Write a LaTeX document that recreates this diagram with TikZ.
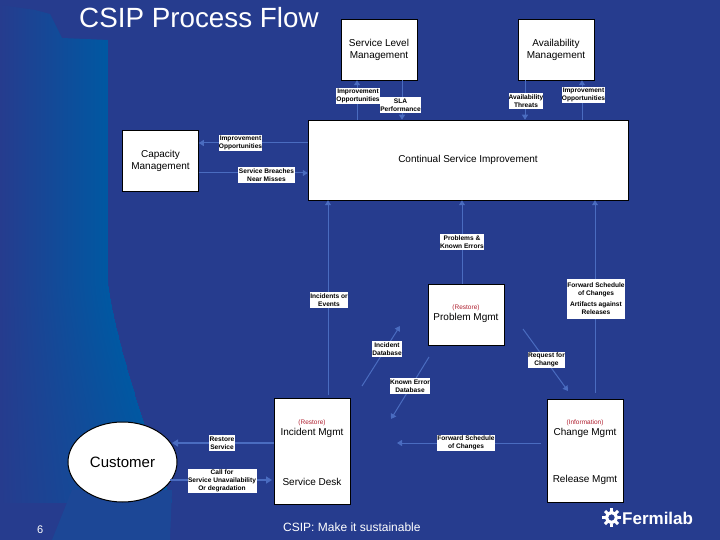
\documentclass[tikz,border=0pt]{standalone}
\usepackage{fontspec}
\setmainfont{Liberation Sans}
\usetikzlibrary{arrows.meta,calc,shapes.geometric}
\definecolor{bgblue}{HTML}{263C8E}
\definecolor{bandlow}{HTML}{1C4796}
\definecolor{bandlight}{HTML}{0058A2}
\definecolor{flow}{HTML}{4A6CC0}
\definecolor{redtxt}{HTML}{B02030}
\tikzset{
 x=1pt,y=-1pt,
 proc/.style={draw=black,line width=0.5pt,fill=white,minimum width=76pt,inner sep=0pt,align=center,font=\fontsize{10}{12}\selectfont},
 lab/.style={fill=white,inner sep=0pt,align=center,font=\fontsize{6.6}{8}\selectfont\bfseries,text=black},
 flowline/.style={draw=flow,line width=1pt,-{Triangle[width=6pt,length=5pt]}},
 flowthick/.style={flowline,line width=1.6pt,-{Triangle[width=7pt,length=6pt]}},
 boxtxt/.style={inner sep=0pt,font=\fontsize{10}{12}\selectfont},
 redlab/.style={inner sep=0pt,text=redtxt,font=\fontsize{6.5}{8}\selectfont},
 titletxt/.style={text=white,inner sep=0pt,anchor=base west},
 bandshade/.style={left color=bgblue,right color=bandlight,draw=none},
}
\begin{document}
\begin{tikzpicture}
\useasboundingbox (0,0) rectangle (720,540);
\fill[bgblue] (0,0) rectangle (720,540);
% background band
\begin{scope}
\clip (0,5) -- (35,10) -- (50,14) -- (62,38) -- (108,40) -- (108,282) -- (0,282) -- cycle;
\shade[bandshade] (0,0) rectangle (108,282);
\end{scope}
\foreach \yy in {280,283,...,500}{
  \pgfmathsetmacro{\xx}{108+64*((\yy-280)/220)^1.3}
  \shade[bandshade] (0,\yy) rectangle (\xx,\yy+3.3);
}
\fill[bandlow] (52,540) -- (72,490) -- (172,490) -- (170,540) -- cycle;
% process boxes
\node[proc,minimum height=61pt] (slm) at (379,49.5) {Service Level\\Management};
\node[proc,minimum height=61pt] (avail) at (556,49.5) {Availability\\Management};
\node[proc,minimum width=320pt,minimum height=80pt] (csi) at (468,160) {Continual Service Improvement};
\node[proc,minimum height=61pt] (cap) at (160.5,160.5) {Capacity\\Management};
\node[proc,minimum height=61pt] (prob) at (466,314.5) {};
\node[proc,minimum height=106pt] (inc) at (312,451) {};
\node[proc,minimum height=103pt] (chg) at (585,450.5) {};
\node[draw=black,line width=1pt,fill=white,ellipse,minimum width=109pt,minimum height=80pt,inner sep=0pt,font=\fontsize{15}{16}\selectfont] (cust) at (122.5,462) {Customer};
% texts inside the boxes
\node[redlab] (probr) at (466,308) {(Restore)};
\node[boxtxt] (probt) at (466,318) {Problem Mgmt};
\node[redlab] (incr) at (312,423) {(Restore)};
\node[boxtxt] (inct) at (312,433) {Incident Mgmt};
\node[boxtxt] (desk) at (312,482) {Service Desk};
\node[redlab] (chgr) at (585,423) {(Information)};
\node[boxtxt] (chgt) at (585,433) {Change Mgmt};
\node[boxtxt] (rel) at (585,480) {Release Mgmt};
% anchors for free ends
\coordinate (idb1) at (362,386);
\coordinate (idb2) at (400,326);
\coordinate (ked1) at (429,357);
\coordinate (ked2) at (391,419);
\coordinate (rfc1) at (523,329);
\coordinate (rfc2) at (568,391);
\coordinate (fsb2) at (397,443);
\coordinate (fsb1) at (541,443);
\coordinate (rs2) at (172,443);
\coordinate (cf1) at (170,480);
\coordinate (cf2) at (272,480);
\coordinate (x1) at (357,0);
\coordinate (x2) at (402,0);
\coordinate (x3) at (525,0);
\coordinate (x4) at (582,0);
\coordinate (x5) at (462,0);
\coordinate (x6) at (328,0);
\coordinate (x7) at (595,0);
\coordinate (y1) at (0,143);
\coordinate (y2) at (0,173);
% connectors
\draw[flowline] (x1 |- csi.north) -- (x1 |- slm.south);
\draw[flowline] (x2 |- slm.south) -- (x2 |- csi.north);
\draw[flowline] (x3 |- avail.south) -- (x3 |- csi.north);
\draw[flowline] (x4 |- csi.north) -- (x4 |- avail.south);
\draw[flowline] (csi.west |- y1) -- (cap.east |- y1);
\draw[flowline] (cap.east |- y2) -- (csi.west |- y2);
\draw[flowline] (x5 |- prob.north) -- (x5 |- csi.south);
\draw[flowline] ($(x6 |- inc.north)+(0,-3)$) -- (x6 |- csi.south);
\draw[flowline] ($(x7 |- chg.north)+(0,-6)$) -- (x7 |- csi.south);
\draw[flowline] (idb1) -- (idb2);
\draw[flowline] (ked1) -- (ked2);
\draw[flowline] (rfc1) -- (rfc2);
\draw[flowline] (fsb1) -- (fsb2);
\draw[flowthick] (inc.west |- rs2) -- (rs2);
\draw[flowthick] (cf1) -- (cf2);
% connector labels
\node[lab,minimum width=44pt,minimum height=16pt] (l1) at (358,96) {Improvement\\Opportunities};
\node[lab,minimum width=41pt,minimum height=16pt] (l2) at (400.5,105) {SLA\\Performance};
\node[lab,minimum width=32pt,minimum height=16pt] (l3) at (526,101) {Availability\\Threats};
\node[lab,minimum width=43pt,minimum height=16pt] (l4) at (583.5,95) {Improvement\\Opportunities};
\node[lab,minimum width=43pt,minimum height=16pt] (l5) at (240.5,143) {Improvement\\Opportunities};
\node[lab,minimum width=57pt,minimum height=16pt] (l6) at (266.5,175) {Service Breaches\\Near Misses};
\node[lab,minimum width=44pt,minimum height=16pt] (l7) at (462,242) {Problems \&\\Known Errors};
\node[lab,minimum width=38pt,minimum height=16pt] (l8) at (329,300) {Incidents or\\Events};
\node[lab,minimum width=58pt,minimum height=40pt] (l9) at (596,299) {Forward Schedule\\of Changes\\[3pt]Artifacts against\\Releases};
\node[lab,minimum width=30pt,minimum height=16pt] (l10) at (387,349) {Incident\\Database};
\node[lab,minimum width=40pt,minimum height=16pt] (l11) at (410,386) {Known Error\\Database};
\node[lab,minimum width=37pt,minimum height=16pt] (l12) at (546.5,360) {Request for\\Change};
\node[lab,minimum width=58pt,minimum height=16pt] (l13) at (466,443) {Forward Schedule\\of Changes};
\node[lab,minimum width=26pt,minimum height=16pt] (l14) at (222,443) {Restore\\Service};
\node[lab,minimum width=69pt,minimum height=24pt] (l15) at (222,481) {Call for\\Service Unavailability\\Or degradation};
% title and footer
\node[titletxt,font=\fontsize{27.8}{30}\selectfont] (title) at (79,28) {CSIP Process Flow};
\node[titletxt,font=\fontsize{11}{13}\selectfont] (pg) at (37,533) {6};
\node[titletxt,font=\fontsize{12}{14}\selectfont] (foot) at (283,531.5) {CSIP: Make it sustainable};
% Fermilab logo
\node[circle,draw=white,line width=3.2pt,minimum size=10pt,inner sep=0pt] (gear) at (611.5,517.5) {};
\foreach \a in {0,45,...,315}{\draw[white,line width=3pt] (gear.center) ++(\a:6) -- ++(\a:3.2);}
\node[titletxt,font=\fontsize{17}{18}\selectfont\bfseries] (ferm) at (622,524) {Fermilab};
\end{tikzpicture}
\end{document}
